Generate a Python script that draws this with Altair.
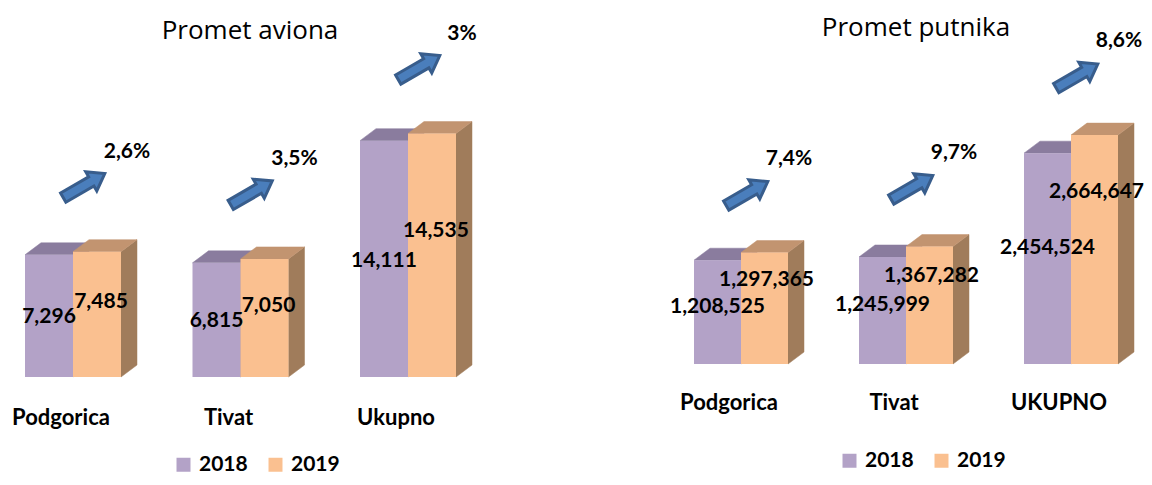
import altair as alt
import pandas as pd

# ---------------- data ----------------
years = ["2018", "2019"]

cats_avioni = ["Podgorica", "Tivat", "Ukupno"]
avioni_2018 = [7296, 6815, 14111]
avioni_2019 = [7485, 7050, 14535]
avioni_rast = ["2,6%", "3,5%", "3%"]

cats_putnici = ["Podgorica", "Tivat", "UKUPNO"]
putnici_2018 = [1208525, 1245999, 2454524]
putnici_2019 = [1297365, 1367282, 2664647]
putnici_rast = ["7,4%", "9,7%", "8,6%"]

# ---------------- style ----------------
FRONT = ["#B3A2C7", "#FAC090"]
TOP = ["#8A7C9E", "#C29470"]
SIDE = ["#7E7091", "#A07C5B"]
ARROW_FILL = "#4A7EBC"
ARROW_STROKE = "#385D8C"
FONT = "Lato"
TITLE_FONT = "Open Sans"
DEPTH_X = 16
DEPTH_Y = 12
ARROW = "M-1,-0.22 L0.35,-0.22 L0.35,-0.46 L1,0 L0.35,0.46 L0.35,0.22 L-1,0.22 Z"

GEOM_AVIONI = dict(W=560, H=469, ppx=167.5, x0=65, ky=0.01675, base=369, bw=48,
                   cat_y=410, title_xy=(242, 31), legend_xy=(165, 446),
                   frac=(0.49, 0.60), odx=4, gdx=54, gdy=-100, axo=11, ayo=-66)
GEOM_PUTNICI = dict(W=576, H=469, ppx=165, x0=173, ky=8.59e-5, base=356, bw=47,
                    cat_y=395, title_xy=(348, 28), legend_xy=(271, 442),
                    frac=(0.55, 0.75), odx=2, gdx=48, gdy=-94, axo=6, ayo=-59)


def panel(title, cats, v18, v19, growth, g):
    W, H = g["W"], g["H"]
    ppx, ky = g["ppx"], g["ky"]
    xdom = [-g["x0"] / ppx, (W - g["x0"]) / ppx]
    ydom = [-(H - g["base"]) / ky, g["base"] / ky]
    w = g["bw"] / ppx
    dx = DEPTH_X / ppx
    dy = DEPTH_Y / ky
    xs = alt.Scale(domain=xdom, nice=False, zero=False)
    ys = alt.Scale(domain=ydom, nice=False, zero=False)

    vals = [v18, v19]
    bars = []
    faces = {0: {"side": [], "top": []}, 1: {"side": [], "top": []}}
    for ci, cat in enumerate(cats):
        for yi, yr in enumerate(years):
            v = vals[yi][ci]
            xl = ci + (yi - 1) * w
            xr = xl + w
            bars.append(dict(cat=cat, year=yr, value=v, xl=xl, xr=xr,
                             lx=(xl + xr) / 2, ly=v * g["frac"][yi]))
            fid = f"{ci}-{yi}"
            faces[yi]["side"] += [dict(fid=fid, x=xr, y=0, y2=v),
                                  dict(fid=fid, x=xr + dx, y=dy, y2=v + dy)]
            faces[yi]["top"] += [dict(fid=fid, x=xl, y=v, y2=v),
                                 dict(fid=fid, x=xl + dx, y=v, y2=v + dy),
                                 dict(fid=fid, x=xr, y=v, y2=v + dy),
                                 dict(fid=fid, x=xr + dx, y=v + dy, y2=v + dy)]
    bars = pd.DataFrame(bars)
    cdf = pd.DataFrame(dict(ci=list(range(len(cats))), cat=cats, v19=v19, g=growth))

    layers = []
    for yi in (0, 1):
        for kind, cols in (("side", SIDE), ("top", TOP)):
            layers.append(
                alt.Chart(pd.DataFrame(faces[yi][kind])).mark_area(
                    color=cols[yi], stroke=cols[yi], strokeWidth=0.5
                ).encode(
                    x=alt.X("x:Q", scale=xs, axis=None),
                    y=alt.Y("y:Q", scale=ys, axis=None),
                    y2="y2:Q",
                    detail="fid:N",
                )
            )
    lx, ly = g["legend_xy"]
    layers.append(
        alt.Chart(bars).mark_rect().encode(
            x=alt.X("xl:Q", scale=xs, axis=None),
            x2="xr:Q",
            y=alt.Y("value:Q", scale=ys, axis=None),
            y2=alt.datum(0),
            color=alt.Color(
                "year:N",
                scale=alt.Scale(domain=years, range=FRONT),
                legend=alt.Legend(
                    orient="none", legendX=lx, legendY=ly, direction="horizontal",
                    title=None, symbolType="square", symbolSize=196,
                    symbolStrokeWidth=0, symbolOpacity=1,
                    labelFont=FONT, labelFontSize=21, labelFontWeight="bold",
                    labelColor="black", labelOffset=5, columnPadding=17,
                    padding=0, labelLimit=0,
                ),
            ),
        )
    )
    # value labels
    for yi, yr in enumerate(years):
        layers.append(
            alt.Chart(bars[bars.year == yr]).mark_text(
                font=FONT, fontSize=21, fontWeight="bold", color="black",
                align="center", baseline="middle", dx=(g["odx"] if yi == 1 else 0),
                clip=True,
            ).encode(
                x=alt.X("lx:Q", scale=xs, axis=None),
                y=alt.Y("ly:Q", scale=ys, axis=None),
                text=alt.Text("value:Q", format=","),
            )
        )
    # category labels
    layers.append(
        alt.Chart(cdf).mark_text(
            font=FONT, fontSize=22, fontWeight="bold", color="black",
            align="center", baseline="middle", dx=-12,
        ).encode(
            x=alt.X("ci:Q", scale=xs, axis=None),
            y=alt.value(g["cat_y"]),
            text="cat:N",
        )
    )
    # growth arrows
    layers.append(
        alt.Chart(cdf).mark_point(
            shape=ARROW, size=2304, angle=330, filled=True, fill=ARROW_FILL,
            stroke=ARROW_STROKE, strokeWidth=3, opacity=1,
            xOffset=g["axo"], yOffset=g["ayo"],
        ).encode(
            x=alt.X("ci:Q", scale=xs, axis=None),
            y=alt.Y("v19:Q", scale=ys, axis=None),
        )
    )
    # growth labels
    layers.append(
        alt.Chart(cdf).mark_text(
            font=FONT, fontSize=21, fontWeight="bold", color="black",
            align="center", baseline="middle", dx=g["gdx"], dy=g["gdy"], clip=True,
        ).encode(
            x=alt.X("ci:Q", scale=xs, axis=None),
            y=alt.Y("v19:Q", scale=ys, axis=None),
            text="g:N",
        )
    )
    # title
    tx, ty = g["title_xy"]
    layers.append(
        alt.Chart(pd.DataFrame({"t": [title]})).mark_text(
            font=TITLE_FONT, fontSize=26, color="black", align="center",
            baseline="alphabetic",
        ).encode(x=alt.value(tx), y=alt.value(ty), text="t:N")
    )
    return alt.layer(*layers).properties(width=W, height=H)


left = panel("Promet aviona", cats_avioni, avioni_2018, avioni_2019, avioni_rast, GEOM_AVIONI)
right = panel("Promet putnika", cats_putnici, putnici_2018, putnici_2019, putnici_rast, GEOM_PUTNICI)

chart = (
    alt.hconcat(left, right, spacing=0)
    .resolve_scale(x="independent", y="independent", color="independent")
    .properties(padding=0, background="white")
    .configure_view(stroke=None)
)

chart.save("out.html", embed_options={"renderer": "svg", "actions": False})
